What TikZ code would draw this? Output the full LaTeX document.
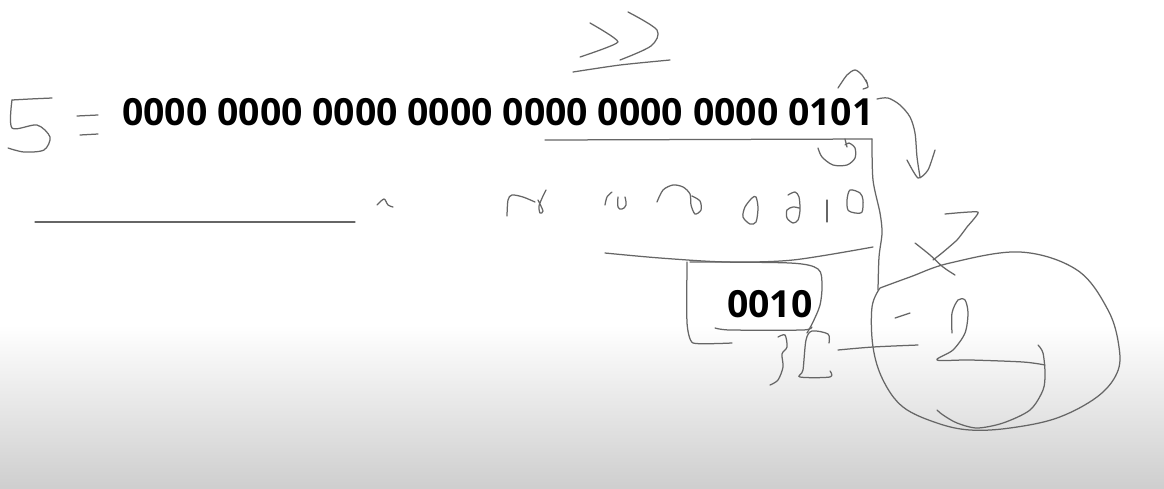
\documentclass[tikz,border=0pt]{standalone}
\usepackage{fontspec}
\newfontfamily\bitfont{Open Sans}
\usepackage{tikz}
\usetikzlibrary{positioning}

\begin{document}
\begin{tikzpicture}[
    x=1pt, y=-1pt,
    ink/.style={draw=black!60, line width=1.25pt, line cap=round, line join=round},
    bits/.style={font=\bitfont\bfseries\fontsize{37.4}{40}\selectfont, inner sep=0pt, anchor=base west}
]
\useasboundingbox (0,0) rectangle (1164,488);

% Background
\fill[white] (0,0) rectangle (1164,488);
\shade[top color=white, bottom color=gray!38] (0,325) rectangle (1164,488);

% Printed numbers
\node[bits] (binary) at (122,125) {0000 0000 0000 0000 0000 0000 0000 0101};
\node[bits] (nibble) at (727,317) {0010};

% Left: 5 = ... and line
\draw[ink] plot[smooth, tension=0.5] coordinates {(52,98) (30,99) (12,100)};
\draw[ink] plot[smooth, tension=0.5] coordinates {(12,100) (12,128) (37,125) (50,137) (44,150) (24,152) (8,148)};
\draw[ink] (77,116) -- (98,115);
\draw[ink] (80,135) -- (98,134);
\draw[ink] (35,222) -- (355,222);
\draw[ink] plot[smooth] coordinates {(377,205) (384,199) (388,205) (393,207)};

% Shift sign >>
\draw[ink] plot[smooth, tension=0.3] coordinates {(590,23) (618,42) (580,57)};
\draw[ink] plot[smooth, tension=0.5] coordinates {(628,12) (657,30) (651,46) (620,60)};
\draw[ink] plot[smooth, tension=0.4] coordinates {(573,72) (620,65) (670,60)};

% Underline and right bracket
\draw[ink] (545,140) -- (872,139);
\draw[ink] plot[smooth, tension=0.5] coordinates {(872,139) (873,180) (880,213) (882,233) (879,257) (878,290)};

% Curly arrows round 0101
\draw[ink] plot[smooth] coordinates {(838,88) (847,75) (855,70) (862,75) (867,83)};
\draw[ink] plot[smooth, tension=0.3] coordinates {(866,80) (868,87) (863,89)};
\draw[ink] plot[smooth] coordinates {(877,99) (888,98) (900,105) (910,117) (915,133) (917,157) (920,177)};
\draw[ink] plot[smooth, tension=0.4] coordinates {(907,160) (918,178) (928,170) (935,150)};
\draw[ink] plot[smooth] coordinates {(818,148) (822,157) (833,165) (847,165) (855,158) (855,148) (849,143) (845,145)};
\draw[ink] (845,139) -- (847,147);

% Handwritten shifted bits
\draw[ink] plot[smooth] coordinates {(507,216) (508,200) (512,195) (523,197) (535,202)};
\draw[ink] plot[smooth] coordinates {(538,200) (543,211) (540,213) (539,206) (543,196) (546,190)};
\draw[ink] plot[smooth] coordinates {(605,205) (607,197) (612,192)};
\draw[ink] plot[smooth, tension=0.7] coordinates {(618,197) (618,207) (622,209) (626,205) (625,197)};
\draw[ink] plot[smooth] coordinates {(657,202) (663,190) (673,185) (683,187) (690,194) (691,205) (695,214) (701,210) (700,201) (692,196)};
\draw[ink] plot[smooth cycle] coordinates {(752,198) (745,207) (743,217) (750,224) (756,222) (758,208) (756,197)};
\draw[ink] plot[smooth] coordinates {(788,195) (795,192) (799,197) (800,210) (798,220) (793,223) (787,218) (787,210) (793,207) (799,208)};
\draw[ink] (827,200) -- (827,222);
\draw[ink] plot[smooth cycle] coordinates {(850,190) (847,200) (848,210) (855,213) (862,212) (863,200) (860,193)};

% Line over 0010 and its box
\draw[ink] plot[smooth, tension=0.5] coordinates {(605,253) (660,258) (727,262) (793,260) (873,247)};
\draw[ink] plot[smooth, tension=0.3] coordinates {(687,262) (687,323) (693,343) (732,343)};
\draw[ink] plot[smooth, tension=0.5] coordinates {(690,262) (790,263) (818,269) (822,285) (820,305) (813,322) (807,333)};
\draw[ink] plot[smooth, tension=0.4] coordinates {(715,328) (730,330) (803,330) (812,327)};

% 32 and link
\draw[ink] plot[smooth, tension=0.5] coordinates {(778,337) (785,335) (787,347) (782,354) (783,367) (778,380) (770,385)};
\draw[ink] plot[smooth, tension=0.5] coordinates {(829,343) (828,334) (812,331) (806,340) (803,370) (800,377) (830,377) (830,371)};
\draw[ink] plot[smooth, tension=0.5] coordinates {(838,350) (873,347) (918,345)};

% 7 and cross
\draw[ink] plot[smooth, tension=0.3] coordinates {(945,214) (978,212) (967,227) (957,240) (942,253) (933,260)};
\draw[ink] plot[smooth, tension=0.5] coordinates {(915,243) (930,255) (943,267) (955,275)};

% Circled 2
\draw[ink] plot[smooth, tension=0.6] coordinates {(880,288) (910,277) (950,263) (1020,252) (1077,270) (1108,310) (1119,347) (1117,373) (1097,397) (1057,418) (1010,428) (970,430) (937,423) (903,407) (883,380) (873,347) (872,307) (880,288)};
\draw[ink] (895,318) -- (910,313);
\draw[ink] plot[smooth, tension=0.5] coordinates {(952,333) (952,313) (958,300) (965,300) (968,313) (965,333) (953,350) (937,360) (970,360) (1023,362) (1045,365)};
\draw[ink] plot[smooth, tension=0.5] coordinates {(1038,345) (1043,353) (1045,373) (1043,390) (1030,410) (1003,423) (977,428) (957,423) (943,415) (937,410)};

\end{tikzpicture}
\end{document}
